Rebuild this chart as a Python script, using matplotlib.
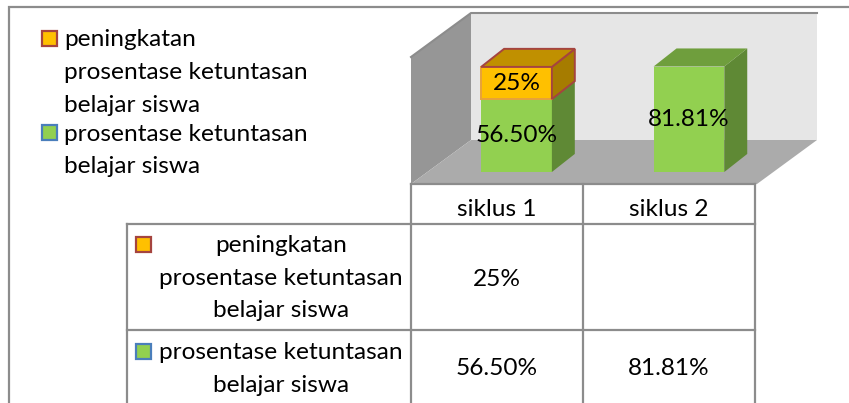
import matplotlib
matplotlib.use("Agg")
import matplotlib.pyplot as plt
from matplotlib.patches import Polygon, Rectangle

plt.rcParams['font.family'] = ['Lato', 'DejaVu Sans']

categories = ['siklus 1', 'siklus 2']
base_values = [56.50, 81.81]
increase_values = [25, None]
base_labels = ['56.50%', '81.81%']
increase_labels = ['25%', '']
increase_name = ['peningkatan', 'prosentase ketuntasan', 'belajar siswa']
base_name = ['prosentase ketuntasan', 'belajar siswa']

GREEN = '#92D050'
GREEN_TOP = '#6F9E3D'
GREEN_SIDE = '#5F8935'
ORANGE = '#FFC000'
ORANGE_TOP = '#C09000'
ORANGE_SIDE = '#A67C00'
RED_EDGE = '#A5443F'
FRONT_EDGE = '#E8A23A'
BLUE_EDGE = '#4A7EBB'
LINE = '#8C8C8C'
FS = 17.6

W, H = 849, 403
fig = plt.figure(figsize=(W / 100, H / 100), dpi=100)
ax = fig.add_axes([0, 0, 1, 1])
ax.set_xlim(0, W)
ax.set_ylim(H, 0)
ax.axis('off')

# outer frame
ax.plot([9, 9, W], [H, 7, 7], color=LINE, lw=1.6, solid_joinstyle='miter')

# 3d walls
ax.add_patch(Polygon([(411, 57), (471, 13), (471, 140), (411, 184)], fc='#969696', ec='none'))
ax.add_patch(Polygon([(471, 13), (817, 13), (817, 140), (471, 140)], fc='#E6E6E6', ec='none'))
ax.add_patch(Polygon([(411, 184), (471, 140), (817, 140), (757, 184)], fc='#ABABAB', ec='none'))
ax.plot([411, 471, 817], [57, 13, 13], color=LINE, lw=1.5)

# table lines
for x, y0, y1 in [(411, 184, H), (583, 184, H), (755, 184, H), (127, 224, H)]:
    ax.plot([x, x], [y0, y1], color=LINE, lw=1.6)
for x0, x1, y in [(411, 755, 184), (127, 755, 224), (127, 755, 330)]:
    ax.plot([x0, x1], [y, y], color=LINE, lw=1.6)


def swatch(x, y, fc, ec):
    ax.add_patch(Rectangle((x, y), 15, 15, fc=fc, ec=ec, lw=1.6))


def lines(x, ys, texts, ha='left'):
    for y, t in zip(ys, texts):
        ax.text(x, y, t, fontsize=FS, color='black', ha=ha, va='baseline')


# legend
swatch(42, 31, ORANGE, RED_EDGE)
swatch(42, 125, GREEN, BLUE_EDGE)
lines(64, [46, 79, 112], increase_name)
lines(64, [141, 173], base_name)

# table text
swatch(136, 237, ORANGE, RED_EDGE)
swatch(136, 344, GREEN, BLUE_EDGE)
lines(281, [252, 285, 317], increase_name, ha='center')
lines(281, [359, 392], base_name, ha='center')
for x, c in zip([497, 669], categories):
    ax.text(x, 216, c, fontsize=FS, ha='center', va='baseline')
for x, t1, t2 in zip([497, 669], increase_labels, base_labels):
    ax.text(x, 286, t1, fontsize=FS, ha='center', va='baseline')
    ax.text(x, 375, t2, fontsize=FS, ha='center', va='baseline')

# bars on their own axes, y is the percent scale
bx = fig.add_axes([411 / W, 1 - 172 / H, (755 - 411) / W, (172 - 13) / H])
bx.set_xlim(-0.612, 1.383)
bx.set_ylim(0, 123.3)
bx.axis('off')
bx.patch.set_alpha(0)

bw = 0.41
dx = 0.133
dy = 14


def block(i, y0, y1, front, top, side, z, edge='none', front_edge='none'):
    l, r = i - bw / 2, i + bw / 2
    bx.bar(i, y1 - y0, bw, bottom=y0, color=front, edgecolor=front_edge, linewidth=1.4, zorder=z)
    bx.add_patch(Polygon([(r, y0), (r + dx, y0 + dy), (r + dx, y1 + dy), (r, y1)],
                         fc=side, ec=edge, lw=1.4, zorder=z + 1))
    bx.add_patch(Polygon([(l, y1), (l + dx, y1 + dy), (r + dx, y1 + dy), (r, y1)],
                         fc=top, ec=edge, lw=1.4, zorder=z + 1))


for i, (b, inc) in enumerate(zip(base_values, increase_values)):
    block(i, 0, b, GREEN, GREEN_TOP, GREEN_SIDE, 2)
    bx.text(i, b / 2, base_labels[i], fontsize=FS, ha='center', va='center', zorder=6)
    if inc:
        block(i, b, b + inc, ORANGE, ORANGE_TOP, ORANGE_SIDE, 4, edge=RED_EDGE, front_edge=FRONT_EDGE)
        bx.text(i, b + inc / 2, increase_labels[i], fontsize=FS, ha='center', va='center', zorder=6)

fig.savefig('out.png', dpi=100)
